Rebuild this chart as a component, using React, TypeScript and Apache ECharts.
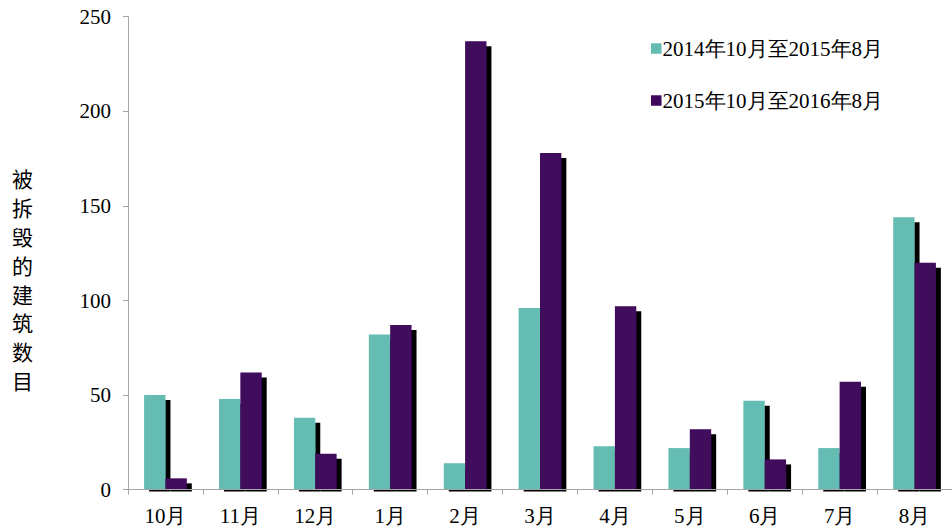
import React, { useEffect, useRef } from "react";
import * as echarts from "echarts";

const categories = ["10月", "11月", "12月", "1月", "2月", "3月", "4月", "5月", "6月", "7月", "8月"];
const series2015 = [50, 48, 38, 82, 14, 96, 23, 22, 47, 22, 144];
const series2016 = [6, 62, 19, 87, 237, 178, 97, 32, 16, 57, 120];
const seriesNames = ["2014年10月至2015年8月", "2015年10月至2016年8月"];
const yAxisName = "被拆毁的建筑数目";

export default function App() {
  const ref = useRef<HTMLDivElement>(null);
  useEffect(() => {
    if (!ref.current) return;
    const chart = echarts.init(ref.current, null, { renderer: "svg" });
    const serif = "Liberation Serif";
    const shadow = {
      shadowColor: "#000",
      shadowBlur: 0,
      shadowOffsetX: 5,
      shadowOffsetY: 5,
    };
    chart.setOption({
      animation: false,
      grid: { left: 128, right: -8, top: 16.7, bottom: 39.3 },
      legend: {
        orient: "vertical",
        left: 646,
        top: 33,
        itemGap: 31,
        itemWidth: 10.5,
        itemHeight: 10.5,
        icon: "rect",
        textStyle: { fontFamily: serif, fontSize: 21, color: "#000", padding: [0, 0, 0, -4] },
        data: seriesNames,
      },
      xAxis: {
        type: "category",
        data: categories,
        z: 10,
        axisLine: { lineStyle: { color: "#a6a6a6", width: 1 } },
        axisTick: { show: true, length: 5, lineStyle: { color: "#a6a6a6" } },
        axisLabel: { fontFamily: serif, fontSize: 21, color: "#000", margin: 16 },
      },
      yAxis: {
        type: "value",
        min: 0,
        max: 250,
        interval: 50,
        splitLine: { show: false },
        axisLine: { show: true, lineStyle: { color: "#a6a6a6", width: 1 } },
        axisTick: { show: true, length: 5, lineStyle: { color: "#a6a6a6" } },
        axisLabel: { fontFamily: serif, fontSize: 21, color: "#000", margin: 17 },
      },
      graphic: [
        {
          type: "text",
          left: 12,
          top: 164,
          style: {
            text: yAxisName.split("").join("\n"),
            font: "21px 'Noto Sans CJK SC', sans-serif",
            lineHeight: 28.8,
            fill: "#000",
          },
        },
        {
          type: "rect",
          z: 5,
          shape: { x: 129, y: 491.5, width: 823, height: 8 },
          style: { fill: "#fff" },
        },
      ],
      series: [
        {
          name: seriesNames[0],
          type: "bar",
          data: series2015,
          barGap: "0%",
          barCategoryGap: "43%",
          itemStyle: { color: "#65bcb3", ...shadow },
        },
        {
          name: seriesNames[1],
          type: "bar",
          data: series2016,
          barGap: "0%",
          barCategoryGap: "43%",
          itemStyle: { color: "#3f085d", ...shadow },
        },
      ],
    });
    return () => chart.dispose();
  }, []);
  return (
    <div
      ref={ref}
      style={{ position: "absolute", left: 0, top: 0, width: 952, height: 529 }}
    />
  );
}
